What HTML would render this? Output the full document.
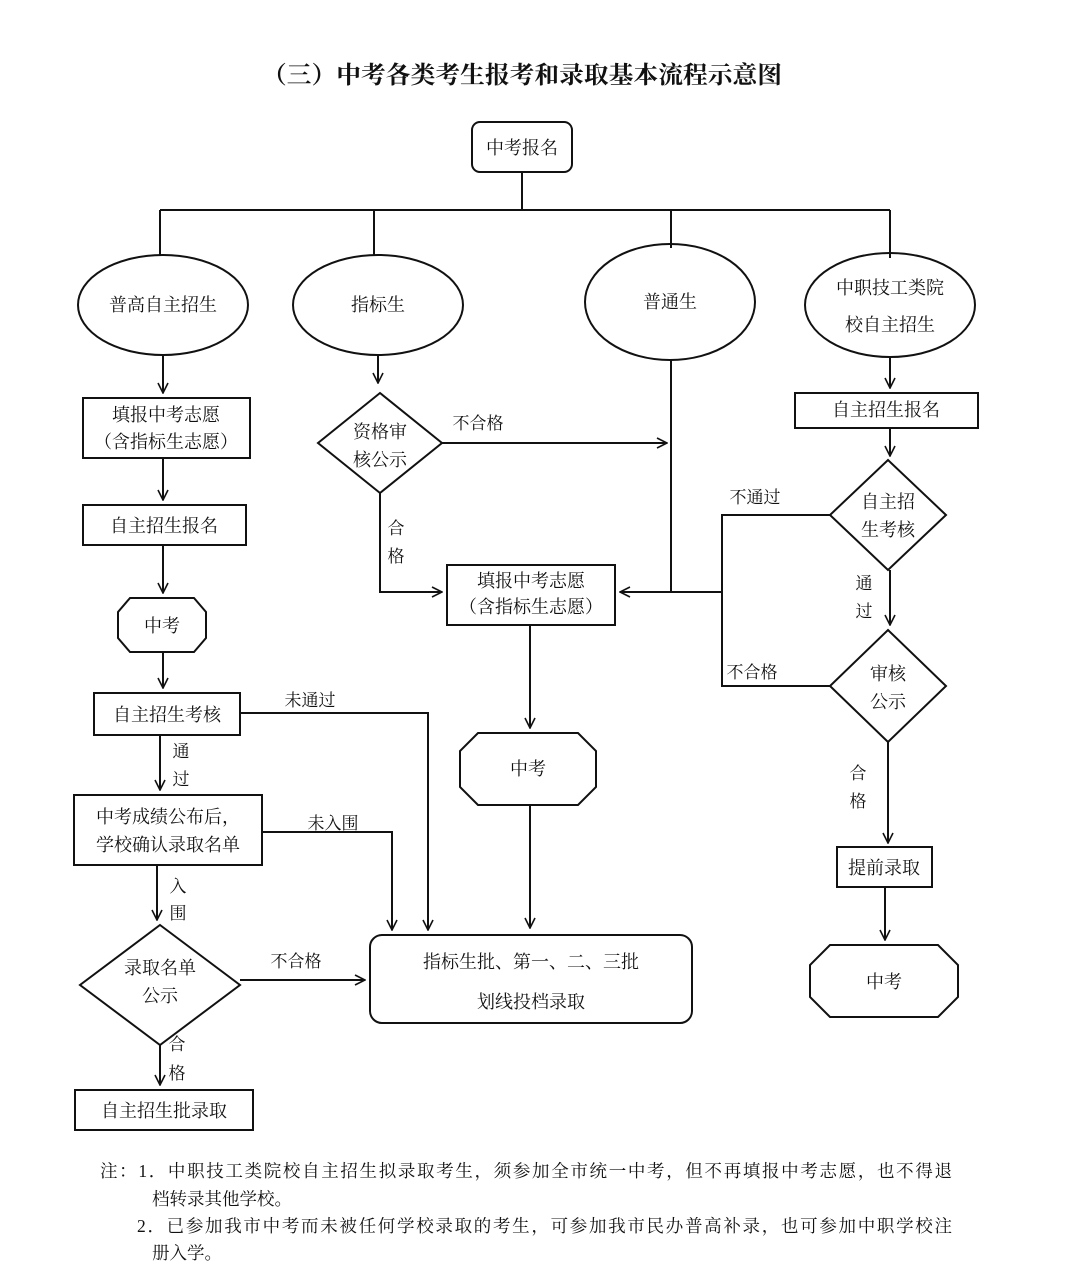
<!DOCTYPE html>
<html><head><meta charset="utf-8"><style>
html,body{margin:0;padding:0;background:#fff;}
svg{display:block;}
text{font-family:"Liberation Serif","Noto Serif CJK SC",serif;fill:#111;}
</style></head><body>
<svg width="1080" height="1288" viewBox="0 0 1080 1288" xmlns="http://www.w3.org/2000/svg">
<defs><marker id="a" markerWidth="12" markerHeight="12" refX="11" refY="6" orient="auto" markerUnits="userSpaceOnUse"><path d="M1,1 L11,6 L1,11" fill="none" stroke="#111" stroke-width="1.6"/></marker></defs>
<g stroke="#111" stroke-width="2" fill="none">
<rect x="472" y="122" width="100" height="50" rx="8"/>
<path d="M522 172V210M160 210H890M160 210V255M374 210V255M671 210V248M890 210V258"/>
<ellipse cx="163" cy="305" rx="85" ry="50"/>
<ellipse cx="378" cy="305" rx="85" ry="50"/>
<ellipse cx="670" cy="302" rx="85" ry="58"/>
<ellipse cx="890" cy="305" rx="85" ry="52"/>
<path d="M163 355V393" marker-end="url(#a)"/>
<rect x="83" y="398" width="167" height="60"/>
<path d="M163 458V500" marker-end="url(#a)"/>
<rect x="83" y="505" width="163" height="40"/>
<path d="M163 545V593" marker-end="url(#a)"/>
<polygon points="130,598 194,598 206,612 206,638 194,652 130,652 118,638 118,612"/>
<path d="M163 652V688" marker-end="url(#a)"/>
<rect x="94" y="693" width="146" height="42"/>
<path d="M160 735V790" marker-end="url(#a)"/>
<rect x="74" y="795" width="188" height="70"/>
<path d="M157 865V920" marker-end="url(#a)"/>
<polygon points="160,925 240,985 160,1045 80,985"/>
<path d="M160 1045V1085" marker-end="url(#a)"/>
<rect x="75" y="1090" width="178" height="40"/>
<path d="M240 713H428V930" marker-end="url(#a)"/>
<path d="M262 832H392V930" marker-end="url(#a)"/>
<path d="M240 980H365" marker-end="url(#a)"/>
<rect x="370" y="935" width="322" height="88" rx="12"/>
<path d="M378 355V383" marker-end="url(#a)"/>
<polygon points="380,393 442,443 380,493 318,443"/>
<path d="M442 443H667" marker-end="url(#a)"/>
<path d="M380 493V592H442" marker-end="url(#a)"/>
<rect x="447" y="565" width="168" height="60"/>
<path d="M671 360V592"/>
<path d="M722 592H620" marker-end="url(#a)"/>
<path d="M830 515H722V686H830"/>
<path d="M530 625V728" marker-end="url(#a)"/>
<polygon points="478,733 578,733 596,751 596,787 578,805 478,805 460,787 460,751"/>
<path d="M530 805V928" marker-end="url(#a)"/>
<path d="M890 357V388" marker-end="url(#a)"/>
<rect x="795" y="393" width="183" height="35"/>
<path d="M890 428V456" marker-end="url(#a)"/>
<polygon points="888,460 946,515 888,570 830,515"/>
<path d="M890 570V625" marker-end="url(#a)"/>
<polygon points="888,630 946,686 888,742 830,686"/>
<path d="M888 742V843" marker-end="url(#a)"/>
<rect x="837" y="847" width="95" height="40"/>
<path d="M885 887V940" marker-end="url(#a)"/>
<polygon points="830,945 938,945 958,965 958,997 938,1017 830,1017 810,997 810,965"/>
</g>
<text x="262" y="83" textLength="520" lengthAdjust="spacingAndGlyphs" font-size="24" font-weight="bold">（三）中考各类考生报考和录取基本流程示意图</text>
<g font-size="18" text-anchor="middle">
<text x="522" y="154">中考报名</text>
<text x="163" y="311">普高自主招生</text>
<text x="378" y="311">指标生</text>
<text x="670" y="308">普通生</text>
<text x="890" y="294">中职技工类院</text>
<text x="890" y="331">校自主招生</text>
<text x="166" y="421">填报中考志愿</text>
<text x="166" y="448">（含指标生志愿）</text>
<text x="164" y="532">自主招生报名</text>
<text x="162" y="632">中考</text>
<text x="167" y="721">自主招生考核</text>
<text x="168" y="823">中考成绩公布后，</text>
<text x="168" y="851">学校确认录取名单</text>
<text x="160" y="974">录取名单</text>
<text x="160" y="1002">公示</text>
<text x="164" y="1117">自主招生批录取</text>
<text x="380" y="438">资格审</text>
<text x="380" y="466">核公示</text>
<text x="531" y="587">填报中考志愿</text>
<text x="531" y="613">（含指标生志愿）</text>
<text x="528" y="775">中考</text>
<text x="531" y="968">指标生批、第一、二、三批</text>
<text x="531" y="1008">划线投档录取</text>
<text x="886" y="416">自主招生报名</text>
<text x="888" y="508">自主招</text>
<text x="888" y="536">生考核</text>
<text x="888" y="680">审核</text>
<text x="888" y="708">公示</text>
<text x="884" y="874">提前录取</text>
<text x="884" y="988">中考</text>
</g>
<g font-size="17" text-anchor="middle">
<text x="478" y="429">不合格</text>
<text x="396" y="534">合</text><text x="396" y="562">格</text>
<text x="310" y="706">未通过</text>
<text x="333" y="829">未入围</text>
<text x="296" y="967">不合格</text>
<text x="181" y="757">通</text><text x="181" y="785">过</text>
<text x="178" y="892">入</text><text x="178" y="919">围</text>
<text x="177" y="1050">合</text><text x="177" y="1079">格</text>
<text x="755" y="503">不通过</text>
<text x="752" y="678">不合格</text>
<text x="864" y="589">通</text><text x="864" y="617">过</text>
<text x="858" y="779">合</text><text x="858" y="807">格</text>
</g>
<g font-size="17.5">
<text x="100" y="1177" textLength="852" lengthAdjust="spacing">注：1．中职技工类院校自主招生拟录取考生，须参加全市统一中考，但不再填报中考志愿，也不得退</text>
<text x="152" y="1205">档转录其他学校。</text>
<text x="137" y="1232" textLength="815" lengthAdjust="spacing">2．已参加我市中考而未被任何学校录取的考生，可参加我市民办普高补录，也可参加中职学校注</text>
<text x="152" y="1259">册入学。</text>
</g>
</svg>
</body></html>
